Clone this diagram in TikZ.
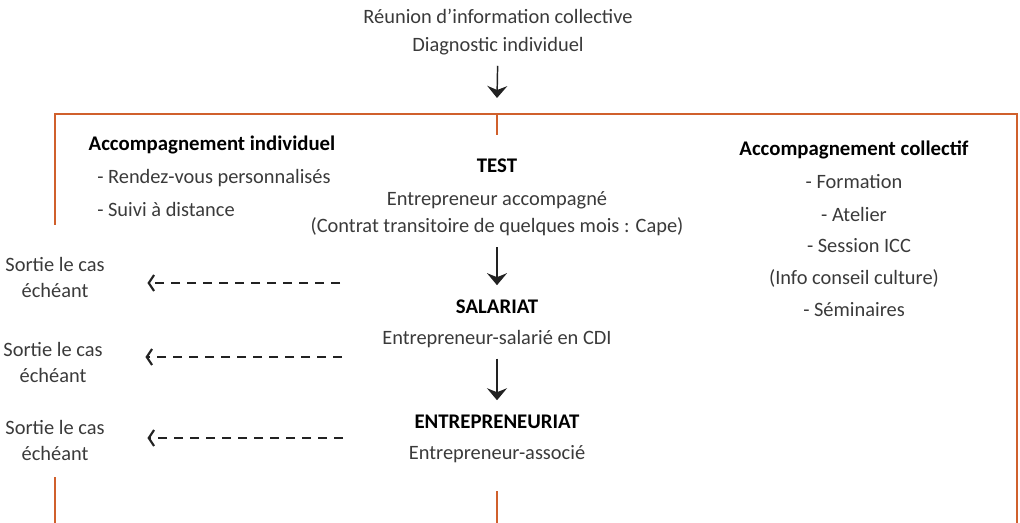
\documentclass[tikz,border=0pt]{standalone}
\usepackage{fontspec}
\setmainfont{Carlito}
\usetikzlibrary{arrows.meta}
\definecolor{cadre}{HTML}{D0602C}
\definecolor{texte}{HTML}{3A3A3A}
\definecolor{trait}{HTML}{222222}

\tikzset{
  txt/.style={text=texte, font=\fontsize{15.3}{19.5}\selectfont, inner sep=0pt},
  titre/.style={text=black, font=\fontsize{15.6}{20}\selectfont\bfseries, inner sep=0pt},
  fleche/.style={draw=trait, line width=1.1pt, -{Stealth[length=9pt,width=15pt,inset=3pt]},
    shorten <=8pt, shorten >=11pt},
  sortie/.style={draw=trait, line width=1.6pt, dash pattern=on 6.75pt off 5.25pt,
    -{Straight Barb[length=4pt,width=12pt]}, shorten >=32pt},
  bord/.style={draw=cadre, line width=2.2pt}
}

\begin{document}
\begin{tikzpicture}[x=0.75pt, y=-0.75pt]
\useasboundingbox (0,0) rectangle (1020,523);

\node[txt] (reunion) at (498,16) {Réunion d’information collective};
\node[txt] (diag) at (498,46) {Diagnostic individuel};
\coordinate (entree) at (497,98);
\draw[fleche, shorten >=0pt] (diag) -- (entree);

\draw[bord] (55,225) -- (55,114) -- (1017,114) -- (1017,523);
\draw[bord] (497,114) -- (497,135);
\draw[bord] (55,477) -- (55,523);
\draw[bord] (497,491) -- (497,523);

\node[titre] (indiv) at (212,145) {Accompagnement individuel};
\node[txt, anchor=west] (rdv) at (97,178) {- Rendez-vous personnalisés};
\node[txt, anchor=west] (suivi) at (97,209) {- Suivi à distance};

\node[titre] (test) at (497,166) {TEST};
\node[txt] (accomp) at (497,200) {Entrepreneur accompagné};
\node[txt] (contrat) at (497,227) {(Contrat transitoire de quelques mois : Cape)};
\node[titre] (salariat) at (497,307) {SALARIAT};
\node[txt] (cdi) at (497,339) {Entrepreneur-salarié en CDI};
\node[titre] (entrep) at (497,422) {ENTREPRENEURIAT};
\node[txt] (associe) at (497,454) {Entrepreneur-associé};

\draw[fleche] (contrat) -- (salariat);
\draw[fleche] (cdi) -- (entrep);

\node[titre] (collectif) at (854,150) {Accompagnement collectif};
\node[txt] (formation) at (854,182) {- Formation};
\node[txt] (atelier) at (854,214) {- Atelier};
\node[txt] (icc) at (859,246) {- Session ICC};
\node[txt] (info) at (854,278) {(Info conseil culture)};
\node[txt] (seminaires) at (854,310) {- Séminaires};

\node[txt, align=center] (sortie1) at (55,277) {Sortie le cas\\échéant};
\node[txt, align=center] (sortie2) at (53,362) {Sortie le cas\\échéant};
\node[txt, align=center] (sortie3) at (55,440) {Sortie le cas\\échéant};

\coordinate (d1) at (340,283);
\coordinate (d2) at (342,357);
\coordinate (d3) at (343,438);
\draw[sortie] (d1) -- (d1 -| sortie1.east);
\draw[sortie] (d2) -- (d2 -| sortie2.east);
\draw[sortie] (d3) -- (d3 -| sortie3.east);

\end{tikzpicture}
\end{document}
